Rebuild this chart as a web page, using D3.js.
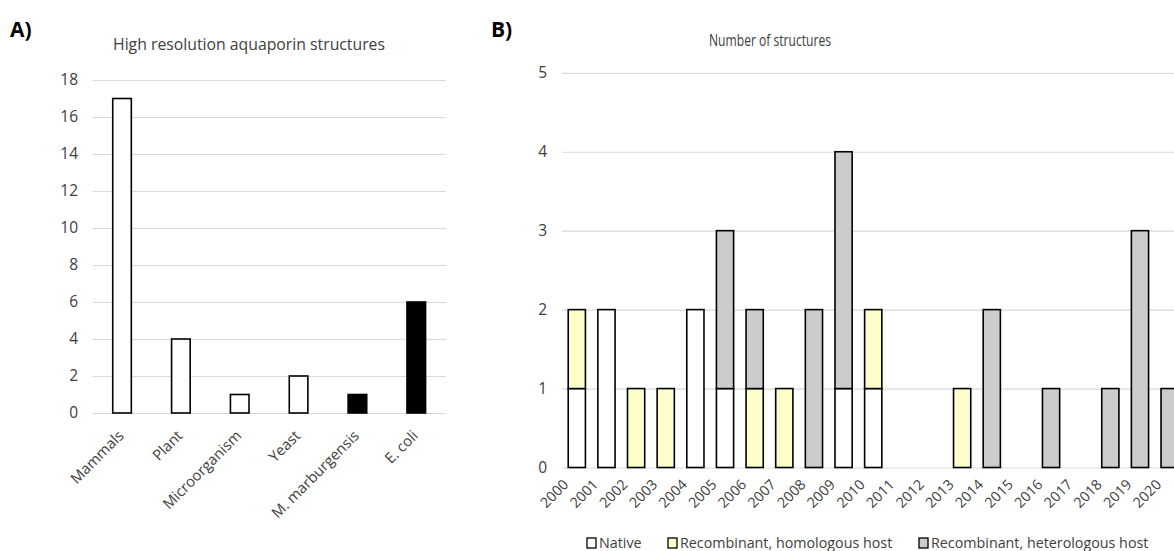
<!DOCTYPE html>
<html>
<head>
<meta charset="utf-8">
<script src="https://cdn.jsdelivr.net/npm/d3@7"></script>
<style>
  body { margin: 0; background: #fff; }
  svg { display: block; font-family: "Open Sans", sans-serif; overflow: hidden; }
  .grid line { stroke: #d9d9d9; stroke-width: 1.2; }
  .grid path { display: none; }
  .tick-label { fill: #404040; font-size: 15.5px; }
</style>
</head>
<body>
<svg width="1174" height="551"></svg>
<script>
// Panel A data
const categories = ["Mammals", "Plant", "Microorganism", "Yeast", "M. marburgensis", "E. coli"];
const structureCounts = [17, 4, 1, 2, 1, 6];
const prokaryotes = ["M. marburgensis", "E. coli"];
const ticksA = [0, 2, 4, 6, 8, 10, 12, 14, 16, 18];

// Panel B data
const years = ["2000", "2001", "2002", "2003", "2004", "2005", "2006", "2007", "2008", "2009", "2010",
               "2011", "2012", "2013", "2014", "2015", "2016", "2017", "2018", "2019", "2020"];
const native       = [1, 2, 0, 0, 2, 1, 0, 0, 0, 1, 1, 0, 0, 0, 0, 0, 0, 0, 0, 0, 0];
const homologous   = [1, 0, 1, 1, 0, 0, 1, 1, 0, 0, 1, 0, 0, 1, 0, 0, 0, 0, 0, 0, 0];
const heterologous = [0, 0, 0, 0, 0, 2, 1, 0, 2, 3, 0, 0, 0, 0, 2, 0, 1, 0, 1, 3, 1];
const seriesNames = ["Native", "Recombinant, homologous host", "Recombinant, heterologous host"];
const ticksB = [0, 1, 2, 3, 4, 5];

const svg = d3.select("svg");

// ---------- Panel A ----------
const xA = d3.scaleBand().domain(categories).range([92.6, 445.7]).paddingInner(0.684).paddingOuter(0.342);
const yA = d3.scaleLinear().domain([0, 18]).range([413, 80]);

const gA = svg.append("g");

gA.append("g")
  .attr("class", "grid")
  .attr("transform", "translate(92.6,0)")
  .call(d3.axisLeft(yA).tickValues(ticksA).tickSize(-(445.7 - 92.6)).tickFormat(""));

gA.selectAll(".ylab")
  .data(ticksA)
  .enter()
  .append("text")
  .attr("class", "tick-label")
  .attr("x", 78)
  .attr("y", d => yA(d))
  .attr("dy", "0.35em")
  .attr("text-anchor", "end")
  .text(d => d);

gA.selectAll("rect")
  .data(categories)
  .enter()
  .append("rect")
  .attr("x", d => xA(d))
  .attr("y", (d, i) => yA(structureCounts[i]))
  .attr("width", xA.bandwidth())
  .attr("height", (d, i) => yA(0) - yA(structureCounts[i]))
  .attr("fill", d => prokaryotes.includes(d) ? "#000" : "#fff")
  .attr("stroke", "#000")
  .attr("stroke-width", 1.6);

gA.selectAll(".xlab")
  .data(categories)
  .enter()
  .append("text")
  .attr("class", "tick-label")
  .attr("text-anchor", "end")
  .attr("transform", d => `translate(${xA(d) + xA.bandwidth() / 2 - 1},${433}) rotate(-45)`)
  .attr("dy", "0.35em")
  .style("font-size", "14.8px")
  .text(d => d);

svg.append("text")
  .attr("x", 249)
  .attr("y", 50)
  .attr("text-anchor", "middle")
  .attr("textLength", 272)
  .attr("lengthAdjust", "spacingAndGlyphs")
  .style("font-size", "16px")
  .style("fill", "#404040")
  .text("High resolution aquaporin structures");

svg.append("text")
  .attr("x", 10)
  .attr("y", 37)
  .style("font-size", "21px")
  .style("font-weight", "bold")
  .text("A)");

// ---------- Panel B ----------
const bandB = 29.64;
const xB = d3.scaleBand().domain(years).range([562, 562 + bandB * years.length]).paddingInner(0.42).paddingOuter(0.21);
const yB = d3.scaleLinear().domain([0, 5]).range([467.5, 72.8]);

const rows = years.map((y, i) => ({
  year: y,
  "Native": native[i],
  "Recombinant, homologous host": homologous[i],
  "Recombinant, heterologous host": heterologous[i]
}));
const stacked = d3.stack().keys(seriesNames)(rows);
const color = d3.scaleOrdinal().domain(seriesNames).range(["#ffffff", "#ffffcc", "#cccccc"]);

const gB = svg.append("g");

gB.append("g")
  .attr("class", "grid")
  .attr("transform", "translate(562,0)")
  .call(d3.axisLeft(yB).tickValues(ticksB).tickSize(-(bandB * years.length)).tickFormat(""));

gB.selectAll(".ylab")
  .data(ticksB)
  .enter()
  .append("text")
  .attr("class", "tick-label")
  .attr("x", 547)
  .attr("y", d => yB(d))
  .attr("dy", "0.35em")
  .attr("text-anchor", "end")
  .text(d => d);

gB.selectAll(".series")
  .data(stacked)
  .enter()
  .append("g")
  .attr("fill", d => color(d.key))
  .selectAll("rect")
  .data(d => d.filter(s => s[1] > s[0]))
  .enter()
  .append("rect")
  .attr("x", d => xB(d.data.year))
  .attr("y", d => yB(d[1]))
  .attr("width", xB.bandwidth())
  .attr("height", d => yB(d[0]) - yB(d[1]))
  .attr("stroke", "#000")
  .attr("stroke-width", 1.6);

gB.selectAll(".xlab")
  .data(years)
  .enter()
  .append("text")
  .attr("class", "tick-label")
  .attr("text-anchor", "end")
  .attr("transform", d => `translate(${xB(d) + xB.bandwidth() / 2 - 11},${482}) rotate(-45)`)
  .attr("dy", "0.35em")
  .style("font-size", "14.3px")
  .text(d => d);

svg.append("text")
  .attr("x", 770)
  .attr("y", 46)
  .attr("text-anchor", "middle")
  .attr("textLength", 122)
  .attr("lengthAdjust", "spacingAndGlyphs")
  .style("font-size", "16.5px")
  .style("fill", "#404040")
  .text("Number of structures");

svg.append("text")
  .attr("x", 491)
  .attr("y", 37)
  .style("font-size", "21px")
  .style("font-weight", "bold")
  .text("B)");

// Legend
const legendX = [587, 668, 919];
const legend = svg.append("g")
  .selectAll("g")
  .data(seriesNames)
  .enter()
  .append("g")
  .attr("transform", (d, i) => `translate(${legendX[i]},538)`);

legend.append("rect")
  .attr("width", 9)
  .attr("height", 10)
  .attr("fill", d => color(d))
  .attr("stroke", "#000")
  .attr("stroke-width", 1.3);

legend.append("text")
  .attr("x", 12)
  .attr("y", 5)
  .attr("dy", "0.35em")
  .style("font-size", "14.3px")
  .style("fill", "#404040")
  .text(d => d);
</script>
</body>
</html>
